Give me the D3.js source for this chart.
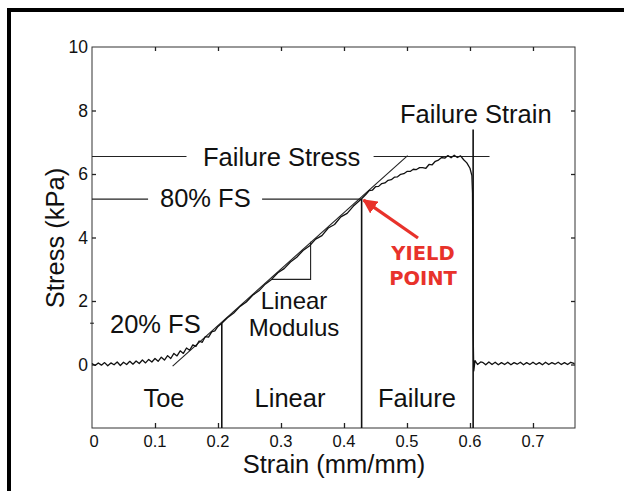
<!DOCTYPE html>
<html><head><meta charset="utf-8">
<script src="https://cdn.jsdelivr.net/npm/d3@7/dist/d3.min.js"></script>
<style>html,body{margin:0;padding:0;background:#fff;}svg{display:block;}</style>
</head><body>
<svg id="c" width="624" height="491"></svg>
<script>
// ---- data ----
const strain = [0.000,0.005,0.010,0.015,0.020,0.025,0.030,0.035,0.040,0.045,0.050,0.055,0.060,0.065,0.070,0.075,0.080,0.085,0.090,0.095,
0.100,0.105,0.110,0.115,0.120,0.125,0.130,0.135,0.140,0.145,0.150,0.155,0.160,0.165,0.170,0.175,0.180,0.185,0.190,0.195,0.200,0.206,
0.215,0.225,0.235,0.245,0.255,0.265,0.275,0.285,0.295,0.305,0.315,0.325,0.335,0.345,0.355,0.365,0.375,0.385,0.395,0.405,0.415,0.428,
0.435,0.440,0.445,0.450,0.455,0.460,0.465,0.470,0.475,0.480,0.485,0.490,0.495,0.500,0.505,0.510,0.515,0.520,0.525,0.530,0.535,0.540,
0.545,0.550,0.555,0.560,0.565,0.570,0.575,0.580,0.585,0.590,0.595,0.600,0.603,0.604,0.605,0.606,0.608,0.612,0.617,
0.620,0.625,0.630,0.635,0.640,0.645,0.650,0.655,0.660,0.665,0.670,0.675,0.680,0.685,0.690,0.695,0.700,0.705,0.710,0.715,0.720,0.725,
0.730,0.735,0.740,0.745,0.750,0.755,0.760,0.766];
const stress = [0.03,-0.03,0.05,-0.02,0.06,-0.04,0.05,-0.01,0.08,-0.03,0.07,0.00,0.10,0.01,0.11,0.03,0.14,0.05,0.16,0.08,
0.19,0.10,0.23,0.14,0.28,0.19,0.35,0.27,0.43,0.35,0.52,0.45,0.62,0.57,0.74,0.70,0.88,0.86,1.03,1.06,1.20,1.30,
1.47,1.62,1.83,1.97,2.18,2.32,2.53,2.68,2.89,3.02,3.23,3.38,3.59,3.73,3.95,4.06,4.30,4.41,4.65,4.76,4.99,5.22,
5.36,5.48,5.49,5.60,5.61,5.70,5.72,5.80,5.82,5.90,5.91,5.99,6.01,6.08,6.08,6.15,6.14,6.20,6.20,6.18,6.30,6.29,
6.40,6.44,6.52,6.50,6.58,6.51,6.59,6.52,6.57,6.45,6.35,6.18,5.95,5.40,1.00,-0.20,0.12,0.00,0.08,
0.07,-0.01,0.08,0.00,0.07,-0.01,0.06,0.00,0.07,-0.01,0.06,0.01,0.07,-0.01,0.06,0.00,0.07,0.00,0.06,-0.01,0.07,0.00,
0.06,0.01,0.07,0.00,0.06,0.00,0.07,0.03];
const xTicks = [0,0.1,0.2,0.3,0.4,0.5,0.6,0.7];
const xTickLabels = ["0","0.1","0.2","0.3","0.4","0.5","0.6","0.7"];
const yTicks = [0,2,4,6,8,10];
const yTickLabels = ["0","2","4","6","8","10"];
const failureStress = 6.55, fs80 = 5.21, fs20 = 1.30;
const toeEnd = 0.206, yieldStrain = 0.428, failureStrain = 0.605;
const tangent = [[0.128,-0.05],[0.501,6.58]];
const modulusTri = [[0.285,2.68],[0.347,2.68],[0.347,3.87]];

// ---- drawing ----
const svg = d3.select("#c");
const x = d3.scaleLinear().domain([0,0.7667]).range([92,575]);
const y = d3.scaleLinear().domain([-2,10]).range([428,47]);
const FONT = "'Liberation Sans', Arial, Helvetica, sans-serif";
const ink = "#111";

// outer frame (left + top)
svg.append("path").attr("d","M9,491 L9,10 L624,10").attr("fill","none").attr("stroke","#000").attr("stroke-width",4);

// plot box
svg.append("rect").attr("x",x(0)).attr("y",y(10)).attr("width",x.range()[1]-x(0)).attr("height",y(-2)-y(10))
  .attr("fill","none").attr("stroke","#333").attr("stroke-width",1);

// axes with inward ticks
const gB = svg.append("g").attr("transform",`translate(0,${y(-2)})`)
  .call(d3.axisTop(x).tickValues(xTicks.slice(1)).tickSize(5).tickFormat(""));
const gT = svg.append("g").attr("transform",`translate(0,${y(10)})`)
  .call(d3.axisBottom(x).tickValues(xTicks.slice(1)).tickSize(4).tickFormat(""));
const gL = svg.append("g").attr("transform",`translate(${x(0)},0)`)
  .call(d3.axisRight(y).tickValues(yTicks.slice(0,5)).tickSize(4).tickFormat(""));
const gR = svg.append("g").attr("transform",`translate(${x.range()[1]},0)`)
  .call(d3.axisLeft(y).tickValues(yTicks.slice(0,5)).tickSize(4).tickFormat(""));
[gB,gT,gL,gR].forEach(g=>{g.select(".domain").remove();g.selectAll(".tick line").attr("stroke","#222").attr("stroke-width",1.3);});

// tick labels
svg.append("g").selectAll("text").data(xTicks).join("text")
  .attr("x",d=>x(d)+ (d===0?2:0)).attr("y",447).attr("text-anchor","middle")
  .attr("font-family",FONT).attr("font-size",16.5).attr("fill",ink).text((d,i)=>xTickLabels[i]);
svg.append("g").selectAll("text").data(yTicks).join("text")
  .attr("x",x(0)-4).attr("y",d=>y(d)+6).attr("text-anchor","end")
  .attr("font-family",FONT).attr("font-size",17.5).attr("fill",ink).text((d,i)=>yTickLabels[i]);

// axis titles
svg.append("text").attr("x",334).attr("y",473).attr("text-anchor","middle")
  .attr("font-family",FONT).attr("font-size",25.5).attr("fill",ink).text("Strain (mm/mm)");
svg.append("text").attr("transform","translate(64,238) rotate(-90)").attr("text-anchor","middle")
  .attr("font-family",FONT).attr("font-size",25.5).attr("fill",ink).text("Stress (kPa)");

// reference lines
const line = d3.line().x(d=>x(d[0])).y(d=>y(d[1]));
const ref = svg.append("g").attr("fill","none").attr("stroke","#222").attr("stroke-width",1.1);
ref.append("path").attr("d",line([[0,failureStress],[0.150,failureStress]]));
ref.append("path").attr("d",line([[0.447,failureStress],[0.631,failureStress]]));
ref.append("path").attr("d",line([[0,fs80],[0.089,fs80]]));
ref.append("path").attr("d",line([[0.270,fs80],[yieldStrain,fs80]]));
ref.append("path").attr("d",line(tangent));
ref.append("path").attr("d",line(modulusTri));
const vert = svg.append("g").attr("fill","none").attr("stroke","#111").attr("stroke-width",1.6);
vert.append("path").attr("d",line([[toeEnd,fs20],[toeEnd,-2]]));
vert.append("path").attr("d",line([[yieldStrain,fs80],[yieldStrain,-2]]));
vert.append("path").attr("d",line([[failureStrain,7.4],[failureStrain,-2]]));
// small marker at 20% FS level on y axis
ref.append("path").attr("d",line([[-0.003,fs20],[0.003,fs20]]));

// data curve
svg.append("path").datum(strain.map((s,i)=>[s,stress[i]]))
  .attr("d",line).attr("fill","none").attr("stroke","#111").attr("stroke-width",1.3).attr("stroke-linejoin","round");

// annotation labels
const lab = (t,xx,yy,anchor,fs)=>svg.append("text").attr("x",xx).attr("y",yy).attr("text-anchor",anchor||"start")
  .attr("font-family",FONT).attr("font-size",fs||25.5).attr("fill",ink).text(t);
lab("Failure Strain",400,123);
lab("Failure Stress",203,166);
lab("80% FS",160,207);
lab("20% FS",110,333);
lab("Linear",294,309,"middle",24);
lab("Modulus",294,336,"middle",24);
lab("Toe",164,407,"middle");
lab("Linear",290,407,"middle");
lab("Failure",417,407,"middle");

// yield point arrow
const red = "#e8322b";
svg.append("defs").append("marker").attr("id","ah").attr("viewBox","0 0 10 10").attr("refX",9).attr("refY",5)
  .attr("markerWidth",4.5).attr("markerHeight",4.5).attr("orient","auto")
  .append("path").attr("d","M0,0 L10,5 L0,10 z").attr("fill",red);
svg.append("line").attr("x1",418).attr("y1",238).attr("x2",x(yieldStrain)+2).attr("y2",y(fs80)+1)
  .attr("stroke",red).attr("stroke-width",3.2).attr("marker-end","url(#ah)");
const yl = svg.append("g").attr("font-family","'DejaVu Sans', Verdana, sans-serif").attr("font-weight","bold")
  .attr("font-size",19.5).attr("fill",red).attr("text-anchor","middle");
yl.append("text").attr("x",423).attr("y",260).text("YIELD");
yl.append("text").attr("x",423).attr("y",285).text("POINT");
</script>
</body></html>
